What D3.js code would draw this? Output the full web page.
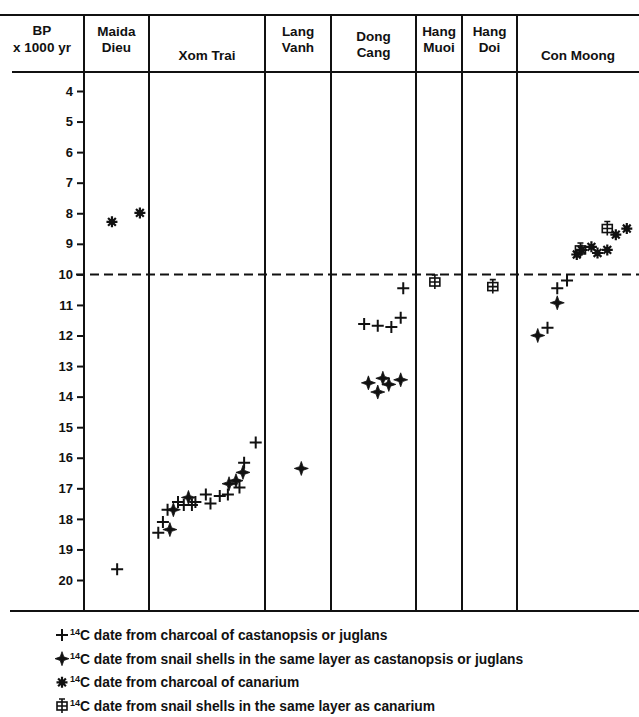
<!DOCTYPE html>
<html>
<head>
<meta charset="utf-8">
<script src="https://cdn.jsdelivr.net/npm/d3@7"></script>
<style>
  body { margin: 0; background: #fff; }
  svg text { font-family: "Liberation Sans", Arial, sans-serif; font-weight: bold; fill: #111; }
</style>
</head>
<body>
<div id="chart"></div>
<script>
// ---- data ----
const sites = ["Maida Dieu", "Xom Trai", "Lang Vanh", "Dong Cang", "Hang Muoi", "Hang Doi", "Con Moong"]
const siteLabels = [["Maida", "Dieu"], ["Xom Trai"], ["Lang", "Vanh"], ["Dong", "Cang"], ["Hang", "Muoi"], ["Hang", "Doi"], ["Con Moong"]]
const yTicks = [4, 5, 6, 7, 8, 9, 10, 11, 12, 13, 14, 15, 16, 17, 18, 19, 20]
const boundaryAge = 10

// [position within column 0..1, age BP x1000, kind]
const maidaDieu = [[0.43, 8.28, "star"], [0.86, 7.99, "star"], [0.51, 19.65, "plus"]]
const xomTrai = [
  [0.92, 15.5, "plus"], [0.82, 16.16, "plus"], [0.81, 16.48, "snail"], [0.75, 16.75, "snail"],
  [0.69, 16.85, "snail"], [0.78, 16.97, "plus"], [0.68, 17.2, "plus"], [0.61, 17.25, "plus"],
  [0.53, 17.5, "plus"], [0.49, 17.2, "plus"], [0.40, 17.45, "plus"], [0.34, 17.3, "snail"],
  [0.37, 17.55, "plus"], [0.30, 17.55, "plus"], [0.25, 17.45, "plus"], [0.21, 17.7, "snail"],
  [0.16, 17.7, "plus"], [0.12, 18.1, "plus"], [0.18, 18.35, "snail"], [0.08, 18.45, "plus"]
]
const langVanh = [[0.55, 16.35, "snail"]]
const dongCang = [
  [0.85, 10.45, "plus"], [0.82, 11.42, "plus"], [0.39, 11.62, "plus"], [0.55, 11.68, "plus"],
  [0.71, 11.72, "plus"], [0.44, 13.55, "snail"], [0.55, 13.85, "snail"], [0.61, 13.4, "snail"],
  [0.68, 13.6, "snail"], [0.82, 13.45, "snail"]
]
const hangMuoi = [[0.41, 10.25, "box"]]
const hangDoi = [[0.56, 10.4, "box"]]
const conMoong = [
  [0.17, 12.0, "snail"], [0.25, 11.75, "plus"], [0.33, 10.93, "snail"], [0.33, 10.45, "plus"],
  [0.41, 10.2, "plus"], [0.49, 9.35, "star"], [0.53, 9.2, "star"], [0.52, 9.2, "box"],
  [0.61, 9.1, "star"], [0.66, 9.3, "star"], [0.74, 9.2, "star"], [0.74, 8.5, "box"],
  [0.81, 8.7, "star"], [0.90, 8.5, "star"]
]
const sitePoints = [maidaDieu, xomTrai, langVanh, dongCang, hangMuoi, hangDoi, conMoong]

const legendKinds = ["plus", "snail", "star", "box"]
const legendTexts = [
  "date from charcoal of castanopsis or juglans",
  "date from snail shells in the same layer as castanopsis or juglans",
  "date from charcoal of canarium",
  "date from snail shells in the same layer as canarium"
]

// ---- layout ----
const width = 639
const height = 717
const topY = 15
const headerY = 72
const bottomY = 611
const colEdges = [84, 149, 265, 331, 416, 462, 517, 639]
const ink = "#111"
const fontSize = 13.5

const svg = d3.select("#chart")
  .append("svg")
    .attr("width", width)
    .attr("height", height)

const yScale = d3.scaleLinear()
  .domain([4, 20])
  .range([91, 580])

// frame lines
svg.append("line")
  .attr("x1", 0).attr("x2", width).attr("y1", topY).attr("y2", topY)
  .attr("stroke", ink).attr("stroke-width", 2)
svg.append("line")
  .attr("x1", 12).attr("x2", width).attr("y1", headerY).attr("y2", headerY)
  .attr("stroke", ink).attr("stroke-width", 2)
svg.append("line")
  .attr("x1", 10).attr("x2", width).attr("y1", bottomY).attr("y2", bottomY)
  .attr("stroke", ink).attr("stroke-width", 2)

svg.selectAll("line.divider")
  .data(colEdges.slice(0, -1))
  .join("line")
    .attr("class", "divider")
    .attr("x1", d => d).attr("x2", d => d)
    .attr("y1", topY).attr("y2", bottomY)
    .attr("stroke", ink)
    .attr("stroke-width", 2)

// y axis
const yAxis = d3.axisLeft(yScale)
  .tickValues(yTicks)
  .tickSize(7)
  .tickPadding(4)
  .tickFormat(d3.format("d"))

const axisG = svg.append("g")
  .attr("transform", `translate(${colEdges[0]}, 0)`)
  .call(yAxis)
axisG.select(".domain").remove()
axisG.selectAll(".tick line").attr("stroke", ink).attr("stroke-width", 2)
axisG.selectAll(".tick text")
  .attr("font-size", 13)
  .attr("font-family", "Liberation Sans, Arial, sans-serif")
  .attr("font-weight", "bold")
  .attr("fill", ink)

// header
const axisHead = svg.append("text")
  .attr("text-anchor", "middle")
  .attr("font-size", fontSize)
axisHead.append("tspan").attr("x", 42).attr("y", 35).text("BP")
axisHead.append("tspan").attr("x", 42).attr("y", 52).text("x 1000 yr")

siteLabels.forEach((lines, i) => {
  const cx = (colEdges[i] + colEdges[i + 1]) / 2
  const startY = lines.length === 1 ? 60 : (sites[i] === "Dong Cang" ? 41 : 36)
  const t = svg.append("text")
    .attr("text-anchor", "middle")
    .attr("font-size", fontSize)
  lines.forEach((s, j) => {
    t.append("tspan").attr("x", cx).attr("y", startY + j * 16).text(s)
  })
})

// dashed boundary line at 10 kyr
svg.append("line")
  .attr("x1", 76).attr("x2", width)
  .attr("y1", yScale(boundaryAge)).attr("y2", yScale(boundaryAge))
  .attr("stroke", ink)
  .attr("stroke-width", 2)
  .attr("stroke-dasharray", "9,5")

// markers
const drawMarker = (g, kind) => {
  if (kind === "plus") {
    g.append("path")
      .attr("d", "M-6,0H6M0,-6V6")
      .attr("stroke", ink).attr("stroke-width", 2).attr("fill", "none")
  } else if (kind === "snail") {
    g.append("path")
      .attr("d", "M0,-7 L1.8,-1.8 L7,0 L1.8,1.8 L0,7 L-1.8,1.8 L-7,0 L-1.8,-1.8Z")
      .attr("fill", ink).attr("stroke", ink).attr("stroke-width", 0.8)
  } else if (kind === "star") {
    g.append("path")
      .attr("d", d3.range(4).map(k => {
        const a = k * Math.PI / 4
        const dx = 5.5 * Math.cos(a), dy = 5.5 * Math.sin(a)
        return `M${-dx},${-dy}L${dx},${dy}`
      }).join(""))
      .attr("stroke", ink).attr("stroke-width", 2.2).attr("fill", "none")
    g.append("circle").attr("r", 2.6).attr("fill", ink)
  } else if (kind === "box") {
    g.append("rect")
      .attr("x", -5).attr("y", -4).attr("width", 10).attr("height", 8)
      .attr("stroke", ink).attr("stroke-width", 1.6).attr("fill", "none")
    g.append("path")
      .attr("d", "M-5,0H5M0,-7V7M-3,-7H3")
      .attr("stroke", ink).attr("stroke-width", 1.6).attr("fill", "none")
  }
}

sitePoints.forEach((pts, i) => {
  const xScale = d3.scaleLinear()
    .domain([0, 1])
    .range([colEdges[i], colEdges[i + 1]])
  svg.append("g")
    .attr("class", "site")
    .selectAll("g")
    .data(pts)
    .join("g")
      .attr("transform", d => `translate(${xScale(d[0])}, ${yScale(d[1])})`)
      .each(function(d) { drawMarker(d3.select(this), d[2]) })
})

// legend
const legendY = d3.scaleLinear().domain([0, 3]).range([635, 706])
legendKinds.forEach((kind, i) => {
  const y = legendY(i)
  const g = svg.append("g").attr("transform", `translate(62, ${y})`)
  drawMarker(g, kind)
  const t = svg.append("text")
    .attr("x", 70)
    .attr("y", y + 5)
    .attr("font-size", 13.8)
  t.append("tspan").attr("font-size", 9).attr("dy", -5).text("14")
  t.append("tspan").attr("dy", 5).text("C " + legendTexts[i])
})
</script>
</body>
</html>
